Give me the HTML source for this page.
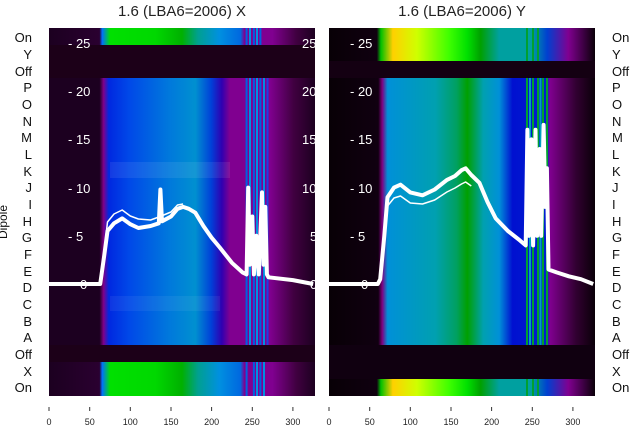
<!DOCTYPE html>
<html><head><meta charset="utf-8"><style>
html,body{margin:0;padding:0;background:#fff;}
svg{display:block;font-family:"Liberation Sans","DejaVu Sans",sans-serif;}
</style></head><body>
<svg width="640" height="440" viewBox="0 0 640 440" xmlns="http://www.w3.org/2000/svg">
<defs>
<linearGradient id="xb" x1="0" x2="1" y1="0" y2="0">
<stop offset="0" stop-color="#1c0020"/><stop offset="0.19" stop-color="#1c0020"/>
<stop offset="0.205" stop-color="#800088"/><stop offset="0.225" stop-color="#0028e0"/>
<stop offset="0.30" stop-color="#0048e8"/><stop offset="0.45" stop-color="#0078dc"/>
<stop offset="0.55" stop-color="#0090d0"/><stop offset="0.61" stop-color="#0040d8"/>
<stop offset="0.65" stop-color="#3000b0"/><stop offset="0.68" stop-color="#800090"/>
<stop offset="0.83" stop-color="#800090"/>
<stop offset="0.92" stop-color="#400040"/><stop offset="1" stop-color="#1c0020"/>
</linearGradient>
<linearGradient id="xg" x1="0" x2="1" y1="0" y2="0">
<stop offset="0" stop-color="#1c0020"/><stop offset="0.19" stop-color="#2a0030"/>
<stop offset="0.20" stop-color="#0070ff"/><stop offset="0.23" stop-color="#00e000"/>
<stop offset="0.40" stop-color="#00d800"/><stop offset="0.50" stop-color="#00b000"/>
<stop offset="0.56" stop-color="#00a090"/><stop offset="0.64" stop-color="#0090e0"/>
<stop offset="0.72" stop-color="#0068e0"/><stop offset="0.735" stop-color="#800090"/>
<stop offset="0.84" stop-color="#800090"/><stop offset="0.93" stop-color="#400040"/>
<stop offset="1" stop-color="#1c0020"/>
</linearGradient>
<linearGradient id="yb" x1="0" x2="1" y1="0" y2="0">
<stop offset="0" stop-color="#080006"/><stop offset="0.185" stop-color="#100010"/>
<stop offset="0.20" stop-color="#800080"/><stop offset="0.22" stop-color="#0090d8"/>
<stop offset="0.40" stop-color="#00a0b0"/><stop offset="0.48" stop-color="#00a060"/>
<stop offset="0.52" stop-color="#00a000"/><stop offset="0.58" stop-color="#00a0b0"/>
<stop offset="0.64" stop-color="#0090d8"/><stop offset="0.69" stop-color="#0010d0"/>
<stop offset="0.82" stop-color="#0020d0"/><stop offset="0.83" stop-color="#800090"/>
<stop offset="0.93" stop-color="#300030"/><stop offset="1" stop-color="#0a0008"/>
</linearGradient>
<linearGradient id="yy" x1="0" x2="1" y1="0" y2="0">
<stop offset="0" stop-color="#080006"/><stop offset="0.18" stop-color="#100010"/>
<stop offset="0.195" stop-color="#00c000"/><stop offset="0.24" stop-color="#ffd000"/>
<stop offset="0.33" stop-color="#d0ff00"/><stop offset="0.45" stop-color="#40ff00"/>
<stop offset="0.52" stop-color="#00e000"/><stop offset="0.57" stop-color="#00a000"/>
<stop offset="0.64" stop-color="#00a0a0"/><stop offset="0.76" stop-color="#00a0a0"/>
<stop offset="0.82" stop-color="#0040d0"/><stop offset="0.90" stop-color="#800090"/>
<stop offset="1" stop-color="#0a0008"/>
</linearGradient>
</defs>

<text x="182" y="16" font-size="15" text-anchor="middle" fill="#222">1.6 (LBA6=2006) X</text>
<text x="462" y="16" font-size="15" text-anchor="middle" fill="#222">1.6 (LBA6=2006) Y</text>

<!-- Left panel -->
<rect x="49" y="28" width="266" height="17" fill="url(#xg)"/>
<rect x="49" y="45" width="266" height="33" fill="#1c0018"/>
<rect x="49" y="78" width="266" height="267" fill="url(#xb)"/>
<rect x="110" y="162" width="120" height="16" fill="#ffffff" opacity="0.08"/>
<rect x="110" y="296" width="110" height="15" fill="#ffffff" opacity="0.06"/>
<rect x="49" y="345" width="266" height="17" fill="#1c0018"/>
<rect x="49" y="362" width="266" height="34" fill="url(#xg)"/>
<g stroke-width="2">
<g stroke="#0060e0">
<line x1="246.6" y1="28" x2="246.6" y2="45"/><line x1="253.9" y1="28" x2="253.9" y2="45"/><line x1="260.4" y1="28" x2="260.4" y2="45"/>
<line x1="246.6" y1="78" x2="246.6" y2="345"/><line x1="253.9" y1="78" x2="253.9" y2="345"/><line x1="260.4" y1="78" x2="260.4" y2="345"/>
<line x1="246.6" y1="362" x2="246.6" y2="396"/><line x1="253.9" y1="362" x2="253.9" y2="396"/><line x1="260.4" y1="362" x2="260.4" y2="396"/>
</g>
<g stroke="#0090e0">
<line x1="250" y1="78" x2="250" y2="345"/><line x1="257" y1="78" x2="257" y2="345"/><line x1="264" y1="78" x2="264" y2="345"/>
<line x1="250" y1="28" x2="250" y2="45"/><line x1="257" y1="28" x2="257" y2="45"/><line x1="264" y1="362" x2="264" y2="396"/><line x1="257" y1="362" x2="257" y2="396"/>
</g>
<line x1="267.5" y1="78" x2="267.5" y2="345" stroke="#2040e0"/>
</g>

<!-- Right panel -->
<rect x="329" y="28" width="266" height="33" fill="url(#yy)"/>
<rect x="329" y="61" width="266" height="17" fill="#140012"/>
<rect x="329" y="78" width="266" height="267" fill="url(#yb)"/>
<rect x="329" y="345" width="266" height="34" fill="#100010"/>
<rect x="329" y="379" width="266" height="17" fill="url(#yy)"/>
<g stroke-width="2" stroke="#00a030">
<line x1="527" y1="78" x2="527" y2="345"/><line x1="533" y1="78" x2="533" y2="345"/><line x1="538" y1="78" x2="538" y2="345"/><line x1="543" y1="78" x2="543" y2="345"/><line x1="547" y1="78" x2="547" y2="345"/>
<line x1="527" y1="379" x2="527" y2="396"/><line x1="533" y1="379" x2="533" y2="396"/><line x1="538" y1="379" x2="538" y2="396"/>
<line x1="527" y1="28" x2="527" y2="61"/><line x1="533" y1="28" x2="533" y2="61"/><line x1="538" y1="28" x2="538" y2="61"/>
</g>
<g stroke-width="2" stroke="#00a0c0">
<line x1="530" y1="78" x2="530" y2="345"/><line x1="540.5" y1="78" x2="540.5" y2="345"/>
</g>

<!-- y tick labels -->
<g fill="#fff" font-size="13">
<text x="68" y="48">- 25</text><text x="68" y="96">- 20</text><text x="68" y="144">- 15</text>
<text x="68" y="193">- 10</text><text x="68" y="241">- 5</text><text x="80" y="289">0</text>
<text x="302" y="48">25</text><text x="302" y="96">20</text><text x="302" y="144">15</text>
<text x="302" y="193">10</text><text x="310" y="241">5</text><text x="310" y="289">0</text>
<text x="350" y="48">- 25</text><text x="350" y="96">- 20</text><text x="350" y="144">- 15</text>
<text x="350" y="193">- 10</text><text x="350" y="241">- 5</text><text x="361" y="289">0</text>
</g>

<!-- curves -->
<g fill="none" stroke="#fff" stroke-linejoin="round">
<polyline stroke-width="4" points="49,284 100.2,284 104.3,255 107.5,231 114,223.3 122.2,218.4 130.3,224.2 138.4,228 150.6,226 158.8,223.3 160.4,189.5 162,221.3 171,216.5 177.5,208.8 183.1,206.9 188.8,208.8 195.3,212.7 203.5,226.2 211.6,237.7 219.7,247.4 231.9,262.8 242.5,272.4 246.6,274.4 248.2,187.6 249.8,264.7 252.3,216.5 253.9,274.4 256.3,235.8 258.8,274.4 262,192.4 263.6,264.7 265.3,206.9 266.9,274.4 268.5,277.3 292.9,280.1 313.2,284"/>
<polyline stroke-width="1.5" points="104.3,250 107.5,222 114,214 122.2,210 130.3,216 138.4,219 150.6,220 158.8,217 171,212 177.5,205 183.1,204"/>
<polyline stroke-width="4" points="329,284 377.8,284 380.2,279.2 384.3,235.8 387.5,197.2 394,187.6 400.5,184.7 410.3,192.4 422.5,195.3 434.7,189.5 446.9,179.9 455,176 461.5,170.2 465.6,168.3 471.3,175 479.4,182.8 487.5,202 495.7,218.4 507.9,231 520.1,240.6 525.7,245.4 527.4,129.8 529,235.8 531.4,139.4 533.1,245.4 535.5,129.8 537.1,235.8 539.6,149 541.2,235.8 543.6,124.9 545.3,206.9 546.9,168.3 548.5,269.5 556.6,272.4 568.8,276.3 581,279.2 593.2,284"/>
<polyline stroke-width="1.5" points="387.5,206 394,198 400.5,196 410.3,203 422.5,204 434.7,200 446.9,192 455,188 461.5,184 465.6,182 471.3,186"/>
</g>

<!-- row labels -->
<g font-size="13" fill="#111">
<g text-anchor="end">
<text x="32" y="42">On</text><text x="32" y="59">Y</text><text x="32" y="76">Off</text>
<text x="32" y="92">P</text><text x="32" y="109">O</text><text x="32" y="126">N</text>
<text x="32" y="142">M</text><text x="32" y="159">L</text><text x="32" y="176">K</text>
<text x="32" y="192">J</text><text x="32" y="209">I</text><text x="32" y="226">H</text>
<text x="32" y="242">G</text><text x="32" y="259">F</text><text x="32" y="276">E</text>
<text x="32" y="292">D</text><text x="32" y="309">C</text><text x="32" y="326">B</text>
<text x="32" y="342">A</text><text x="32" y="359">Off</text><text x="32" y="376">X</text>
<text x="32" y="392">On</text>
</g>
<g>
<text x="612" y="42">On</text><text x="612" y="59">Y</text><text x="612" y="76">Off</text>
<text x="612" y="92">P</text><text x="612" y="109">O</text><text x="612" y="126">N</text>
<text x="612" y="142">M</text><text x="612" y="159">L</text><text x="612" y="176">K</text>
<text x="612" y="192">J</text><text x="612" y="209">I</text><text x="612" y="226">H</text>
<text x="612" y="242">G</text><text x="612" y="259">F</text><text x="612" y="276">E</text>
<text x="612" y="292">D</text><text x="612" y="309">C</text><text x="612" y="326">B</text>
<text x="612" y="342">A</text><text x="612" y="359">Off</text><text x="612" y="376">X</text>
<text x="612" y="392">On</text>
</g>
<text x="7" y="222" transform="rotate(-90 7 222)" text-anchor="middle" font-size="12">Dipole</text>
</g>

<!-- x axes -->
<g stroke="#333" stroke-width="1">
<line x1="49" y1="407" x2="49" y2="411"/><line x1="89.7" y1="407" x2="89.7" y2="411"/><line x1="130.3" y1="407" x2="130.3" y2="411"/><line x1="171" y1="407" x2="171" y2="411"/><line x1="211.6" y1="407" x2="211.6" y2="411"/><line x1="252.3" y1="407" x2="252.3" y2="411"/><line x1="292.9" y1="407" x2="292.9" y2="411"/>
<line x1="329" y1="407" x2="329" y2="411"/><line x1="369.7" y1="407" x2="369.7" y2="411"/><line x1="410.3" y1="407" x2="410.3" y2="411"/><line x1="451" y1="407" x2="451" y2="411"/><line x1="491.6" y1="407" x2="491.6" y2="411"/><line x1="532.3" y1="407" x2="532.3" y2="411"/><line x1="572.9" y1="407" x2="572.9" y2="411"/>
</g>
<g font-size="9" fill="#222" text-anchor="middle">
<text x="49" y="425">0</text><text x="89.7" y="425">50</text><text x="130.3" y="425">100</text><text x="171" y="425">150</text><text x="211.6" y="425">200</text><text x="252.3" y="425">250</text><text x="292.9" y="425">300</text>
<text x="329" y="425">0</text><text x="369.7" y="425">50</text><text x="410.3" y="425">100</text><text x="451" y="425">150</text><text x="491.6" y="425">200</text><text x="532.3" y="425">250</text><text x="572.9" y="425">300</text>
</g>
</svg>
</body></html>
